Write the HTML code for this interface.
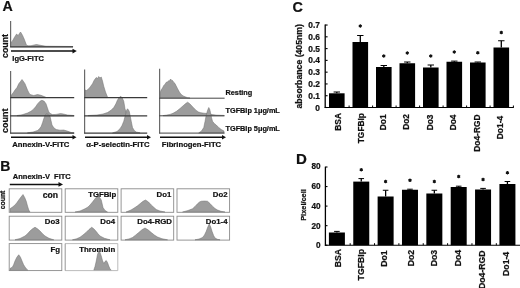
<!DOCTYPE html>
<html><head><meta charset="utf-8"><title>Figure</title>
<style>
html,body{margin:0;padding:0;background:#fff;}
body{width:520px;height:288px;overflow:hidden;}
svg{display:block;will-change:transform;} text{stroke:#111;stroke-width:0.22px;} svg{font-family:"Liberation Sans",sans-serif;fill:#111;}
</style></head><body>
<svg width="520" height="288" viewBox="0 0 520 288">
<rect x="0" y="0" width="520" height="288" fill="#fff"/>
<text x="2.4" y="10.5" font-size="14.2" font-weight="bold">A</text>
<path d="M11.30,46.80 L11.30,41.90 L12.50,41.00 L13.50,39.00 L14.80,36.70 L15.60,35.50 L16.50,34.10 L17.40,34.80 L18.20,35.50 L19.40,33.50 L20.50,32.00 L21.50,33.50 L22.60,35.50 L23.50,37.50 L24.30,39.30 L25.30,42.00 L26.40,44.90 L28.00,45.80 L31.00,45.70 L34.00,45.00 L36.50,44.50 L39.00,45.00 L42.00,45.60 L46.00,46.20 L73.00,46.50 L73.00,46.80 Z" fill="#9c9c9c" stroke="#6e6e6e" stroke-width="0.5" stroke-linejoin="round"/>
<line x1="10.6" y1="21" x2="10.6" y2="47.3" stroke="#6a6a6a" stroke-width="1.2"/>
<line x1="10.2" y1="46.8" x2="73" y2="46.8" stroke="#3a3a3a" stroke-width="1.2"/>
<line x1="11" y1="51.1" x2="73.5" y2="51.1" stroke="#111" stroke-width="1.5"/>
<path d="M72.5,48.8 L76.8,51.1 L72.5,53.4 Z" fill="#111"/>
<text x="12.3" y="60.9" font-size="7.5" font-weight="bold">IgG-FITC</text>
<text transform="translate(8,58) rotate(-90)" font-size="8.8" font-weight="bold">count</text>
<path d="M11.00,97.60 L11.00,95.50 L13.00,93.00 L15.00,90.00 L17.00,87.50 L18.75,83.75 L20.50,81.50 L22.00,79.50 L23.50,81.50 L25.00,83.75 L26.30,87.00 L27.50,90.00 L29.00,93.00 L30.00,94.50 L33.75,95.50 L37.50,94.50 L41.00,95.30 L46.00,97.30 L46.00,97.60 Z" fill="#9c9c9c" stroke="#6e6e6e" stroke-width="0.5" stroke-linejoin="round"/>
<path d="M17.00,115.80 L17.00,115.50 L22.00,114.80 L27.50,113.00 L31.00,111.20 L33.75,109.00 L36.00,106.20 L37.50,103.90 L40.00,101.20 L41.90,100.30 L44.20,101.20 L46.00,103.75 L47.30,107.50 L48.50,111.25 L49.80,113.30 L52.50,114.60 L56.00,114.40 L60.50,113.60 L63.50,114.00 L67.50,115.00 L74.00,115.50 L74.00,115.80 Z" fill="#9c9c9c" stroke="#6e6e6e" stroke-width="0.5" stroke-linejoin="round"/>
<path d="M27.50,133.10 L27.50,132.80 L33.00,132.00 L37.50,130.50 L39.50,128.80 L41.25,126.25 L42.60,122.50 L43.75,118.75 L45.00,115.50 L46.25,113.75 L48.00,114.20 L50.00,116.25 L51.00,120.50 L52.00,125.00 L54.00,128.00 L56.25,129.50 L60.00,130.20 L63.75,130.00 L68.00,131.30 L71.25,132.50 L74.00,132.80 L74.00,133.10 Z" fill="#9c9c9c" stroke="#6e6e6e" stroke-width="0.5" stroke-linejoin="round"/>
<path d="M85.00,97.60 L85.00,90.00 L86.50,90.50 L88.75,88.75 L90.50,86.50 L92.50,83.75 L94.20,80.20 L96.25,77.50 L97.50,78.50 L98.70,76.50 L100.00,78.00 L101.25,77.00 L102.50,81.00 L103.75,86.25 L105.50,92.00 L107.50,97.00 L107.50,97.60 Z" fill="#9c9c9c" stroke="#6e6e6e" stroke-width="0.5" stroke-linejoin="round"/>
<path d="M88.00,115.80 L88.00,115.50 L97.00,115.00 L103.00,114.00 L107.50,112.50 L111.00,110.30 L113.75,107.50 L115.80,104.00 L117.50,100.00 L119.20,97.50 L120.75,96.25 L122.30,98.00 L123.75,101.25 L125.00,108.75 L126.50,113.00 L128.75,115.50 L128.75,115.80 Z" fill="#9c9c9c" stroke="#6e6e6e" stroke-width="0.5" stroke-linejoin="round"/>
<path d="M112.50,133.10 L112.50,132.90 L117.00,131.50 L120.00,128.75 L122.00,125.50 L123.75,121.25 L125.50,114.50 L126.50,110.50 L127.50,108.75 L128.50,110.00 L129.30,111.50 L130.00,115.00 L131.30,121.50 L132.50,127.50 L134.30,130.50 L136.25,132.00 L140.00,132.80 L140.00,133.10 Z" fill="#9c9c9c" stroke="#6e6e6e" stroke-width="0.5" stroke-linejoin="round"/>
<path d="M159.80,98.10 L159.80,93.50 L161.25,89.75 L162.50,88.00 L163.75,85.50 L165.00,84.20 L166.25,82.25 L167.50,82.00 L168.75,80.60 L169.60,81.00 L170.50,79.00 L171.50,80.20 L172.50,80.50 L173.70,82.30 L175.00,83.50 L176.20,86.00 L177.50,88.50 L178.80,91.00 L180.00,93.00 L181.80,95.00 L183.75,96.20 L187.50,97.70 L190.00,98.00 L190.00,98.10 Z" fill="#9c9c9c" stroke="#6e6e6e" stroke-width="0.5" stroke-linejoin="round"/>
<path d="M163.00,115.80 L163.00,115.60 L166.50,115.10 L170.00,114.40 L173.00,113.30 L176.50,111.30 L180.00,108.50 L184.00,105.00 L186.00,103.30 L187.70,102.20 L190.00,104.00 L193.00,107.20 L196.20,110.40 L198.50,112.00 L200.80,112.70 L204.00,113.20 L208.00,113.60 L212.00,114.60 L216.00,115.10 L224.00,115.40 L224.00,115.80 Z" fill="#9c9c9c" stroke="#6e6e6e" stroke-width="0.5" stroke-linejoin="round"/>
<path d="M198.75,133.10 L198.75,132.90 L201.50,131.00 L203.75,127.50 L205.00,121.50 L206.25,115.00 L207.50,110.50 L208.75,107.50 L209.70,109.30 L210.50,112.50 L211.50,117.50 L212.50,121.25 L214.30,123.50 L216.25,125.00 L218.70,127.50 L221.25,129.50 L224.00,131.00 L224.00,133.10 Z" fill="#9c9c9c" stroke="#6e6e6e" stroke-width="0.5" stroke-linejoin="round"/>
<line x1="10.6" y1="71.0" x2="10.6" y2="133.6" stroke="#6a6a6a" stroke-width="1.2"/>
<line x1="10.2" y1="97.6" x2="74.2" y2="97.6" stroke="#3a3a3a" stroke-width="1.20"/>
<line x1="10.2" y1="115.8" x2="74.2" y2="115.8" stroke="#3a3a3a" stroke-width="1.20"/>
<line x1="10.2" y1="133.1" x2="74.2" y2="133.1" stroke="#3a3a3a" stroke-width="1.20"/>
<line x1="84.6" y1="69.5" x2="84.6" y2="133.6" stroke="#6a6a6a" stroke-width="1.2"/>
<line x1="84.2" y1="97.6" x2="147.2" y2="97.6" stroke="#3a3a3a" stroke-width="1.20"/>
<line x1="84.2" y1="115.8" x2="147.2" y2="115.8" stroke="#3a3a3a" stroke-width="1.20"/>
<line x1="84.2" y1="133.1" x2="147.2" y2="133.1" stroke="#3a3a3a" stroke-width="1.20"/>
<line x1="159.6" y1="68.8" x2="159.6" y2="133.6" stroke="#6a6a6a" stroke-width="1.2"/>
<line x1="159.2" y1="98.2" x2="224.6" y2="98.2" stroke="#444" stroke-width="1.00"/>
<line x1="159.2" y1="115.8" x2="224.6" y2="115.8" stroke="#444" stroke-width="1.00"/>
<line x1="159.2" y1="133.1" x2="224.6" y2="133.1" stroke="#444" stroke-width="1.00"/>
<line x1="11.0" y1="137.2" x2="73.5" y2="137.2" stroke="#111" stroke-width="1.5"/>
<path d="M72.5,134.9 L76.5,137.2 L72.5,139.5 Z" fill="#111"/>
<line x1="85.0" y1="137.2" x2="148.0" y2="137.2" stroke="#111" stroke-width="1.5"/>
<path d="M147.0,134.9 L151.0,137.2 L147.0,139.5 Z" fill="#111"/>
<line x1="160.0" y1="137.2" x2="223.0" y2="137.2" stroke="#111" stroke-width="1.5"/>
<path d="M222.0,134.9 L226.0,137.2 L222.0,139.5 Z" fill="#111"/>
<text transform="translate(8,133) rotate(-90)" font-size="9" font-weight="bold">count</text>
<text x="12.2" y="147.2" font-size="7.7" font-weight="bold">Annexin-V-FITC</text>
<text x="86.3" y="147.2" font-size="7.7" font-weight="bold">&#945;-P-selectin-FITC</text>
<text x="161.8" y="147.2" font-size="7.7" font-weight="bold">Fibrinogen-FITC</text>
<text x="225.5" y="95" font-size="7.3" font-weight="bold">Resting</text>
<text x="225.5" y="113" font-size="7.3" font-weight="bold">TGFBIp 1&#956;g/mL</text>
<text x="225.5" y="131" font-size="7.3" font-weight="bold">TGFBIp 5&#956;g/mL</text>
<text x="0.2" y="170.9" font-size="14" font-weight="bold">B</text>
<text x="12.8" y="179.3" font-size="7.5" font-weight="bold" xml:space="preserve">Annexin-V  FITC</text>
<line x1="9.8" y1="184.4" x2="60" y2="184.4" stroke="#111" stroke-width="1.5"/>
<path d="M58.5,182.1 L63,184.4 L58.5,186.7 Z" fill="#111"/>
<text transform="translate(5.2,209.2) rotate(-90)" font-size="6.8" font-weight="bold">count</text>
<path d="M10.00,212.10 L10.00,208.75 L12.50,207.00 L15.00,205.00 L17.00,202.50 L18.75,200.00 L21.00,197.00 L23.00,194.50 L24.70,197.50 L26.25,201.25 L27.50,206.00 L28.75,210.00 L30.00,212.00 L30.00,212.10 Z" fill="#9c9c9c" stroke="#6e6e6e" stroke-width="0.5" stroke-linejoin="round"/>
<path d="M75.00,212.10 L75.00,212.00 L80.00,211.00 L85.00,208.75 L88.00,207.00 L90.00,205.00 L92.50,202.00 L95.00,198.75 L96.50,197.00 L98.00,196.25 L99.70,197.50 L101.25,200.00 L102.20,204.00 L103.00,207.50 L105.00,210.50 L107.50,212.00 L107.50,212.10 Z" fill="#9c9c9c" stroke="#6e6e6e" stroke-width="0.5" stroke-linejoin="round"/>
<path d="M126.00,212.10 L126.00,212.00 L131.00,210.00 L135.00,207.50 L137.50,205.80 L140.00,203.75 L143.00,201.30 L145.50,200.00 L148.50,202.00 L151.25,205.00 L154.00,207.50 L156.25,209.50 L160.00,211.00 L165.00,212.00 L165.00,212.10 Z" fill="#9c9c9c" stroke="#6e6e6e" stroke-width="0.5" stroke-linejoin="round"/>
<path d="M182.50,212.10 L182.50,212.00 L188.00,210.50 L192.50,208.75 L195.00,206.50 L197.50,203.75 L199.50,202.00 L201.25,201.25 L204.50,201.00 L207.50,201.25 L210.00,203.50 L212.50,206.25 L215.00,208.50 L217.50,210.00 L221.00,211.30 L225.00,212.00 L225.00,212.10 Z" fill="#9c9c9c" stroke="#6e6e6e" stroke-width="0.5" stroke-linejoin="round"/>
<path d="M15.00,239.90 L15.00,239.75 L20.00,238.50 L25.00,236.00 L27.50,233.80 L30.00,231.00 L32.50,228.80 L35.00,227.25 L37.50,228.80 L40.00,231.00 L42.50,233.70 L45.00,236.00 L49.00,238.30 L53.75,239.80 L53.75,239.90 Z" fill="#9c9c9c" stroke="#6e6e6e" stroke-width="0.5" stroke-linejoin="round"/>
<path d="M72.50,239.90 L72.50,239.80 L76.50,238.80 L80.00,237.25 L83.00,235.00 L86.25,232.25 L89.00,229.50 L91.75,227.25 L94.00,229.00 L96.25,231.50 L98.00,233.80 L100.00,236.00 L104.50,238.30 L110.00,239.80 L110.00,239.90 Z" fill="#9c9c9c" stroke="#6e6e6e" stroke-width="0.5" stroke-linejoin="round"/>
<path d="M125.00,239.90 L125.00,239.80 L129.00,238.90 L132.50,237.50 L135.50,235.20 L138.75,232.50 L142.00,229.70 L145.00,228.00 L148.00,229.80 L151.25,232.50 L154.30,235.00 L157.50,237.00 L162.00,238.70 L167.50,239.80 L167.50,239.90 Z" fill="#9c9c9c" stroke="#6e6e6e" stroke-width="0.5" stroke-linejoin="round"/>
<path d="M195.00,239.90 L195.00,239.80 L199.00,239.00 L202.50,237.50 L204.50,235.00 L206.25,231.25 L207.80,227.00 L209.25,223.75 L210.70,227.00 L212.00,231.25 L213.50,235.30 L215.00,238.00 L217.50,239.30 L220.00,239.80 L220.00,239.90 Z" fill="#9c9c9c" stroke="#6e6e6e" stroke-width="0.5" stroke-linejoin="round"/>
<path d="M10.00,270.40 L10.00,268.50 L12.50,267.00 L13.70,264.50 L15.00,261.00 L16.80,257.30 L18.75,254.75 L20.50,257.30 L22.00,261.00 L23.50,264.50 L25.00,267.00 L26.50,269.00 L28.00,270.30 L28.00,270.40 Z" fill="#9c9c9c" stroke="#6e6e6e" stroke-width="0.5" stroke-linejoin="round"/>
<path d="M93.75,270.40 L93.75,270.30 L95.00,266.50 L96.25,261.00 L97.40,255.00 L98.75,251.00 L100.00,252.50 L101.25,256.00 L102.50,260.50 L103.75,263.50 L105.00,261.50 L106.25,260.50 L107.50,262.50 L108.75,266.00 L110.00,268.80 L111.25,270.30 L111.25,270.40 Z" fill="#9c9c9c" stroke="#6e6e6e" stroke-width="0.5" stroke-linejoin="round"/>
<rect x="9.2" y="188.8" width="52.6" height="23.5" fill="none" stroke="#8a8a8a" stroke-width="0.9"/>
<text x="58.0" y="197.5" font-size="8.6" font-weight="bold" text-anchor="end">con</text>
<rect x="65.2" y="188.8" width="52.6" height="23.5" fill="none" stroke="#8a8a8a" stroke-width="0.9"/>
<text x="116.3" y="196.9" font-size="7.8" font-weight="bold" text-anchor="end">TGFBIp</text>
<rect x="121.1" y="188.8" width="52.6" height="23.5" fill="none" stroke="#8a8a8a" stroke-width="0.9"/>
<text x="171.3" y="196.9" font-size="7.8" font-weight="bold" text-anchor="end">Do1</text>
<rect x="177.0" y="188.8" width="52.6" height="23.5" fill="none" stroke="#8a8a8a" stroke-width="0.9"/>
<text x="227.5" y="196.9" font-size="7.8" font-weight="bold" text-anchor="end">Do2</text>
<rect x="9.2" y="216.2" width="52.6" height="23.9" fill="none" stroke="#8a8a8a" stroke-width="0.9"/>
<text x="59.5" y="224.3" font-size="7.8" font-weight="bold" text-anchor="end">Do3</text>
<rect x="65.2" y="216.2" width="52.6" height="23.9" fill="none" stroke="#8a8a8a" stroke-width="0.9"/>
<text x="115.0" y="224.3" font-size="7.8" font-weight="bold" text-anchor="end">Do4</text>
<rect x="121.1" y="216.2" width="52.6" height="23.9" fill="none" stroke="#8a8a8a" stroke-width="0.9"/>
<text x="172.0" y="224.3" font-size="7.8" font-weight="bold" text-anchor="end">Do4-RGD</text>
<rect x="177.0" y="216.2" width="52.6" height="23.9" fill="none" stroke="#8a8a8a" stroke-width="0.9"/>
<text x="227.5" y="224.3" font-size="7.8" font-weight="bold" text-anchor="end">Do1-4</text>
<rect x="9.2" y="243.6" width="52.6" height="27.0" fill="none" stroke="#8a8a8a" stroke-width="0.9"/>
<text x="60.0" y="252.4" font-size="7.8" font-weight="bold" text-anchor="end">Fg</text>
<path d="M65.2,243.6 L117.8,243.6 L117.8,270.6 L65.2,270.6" fill="none" stroke="#b4b4b4" stroke-width="0.9"/>
<line x1="65.2" y1="243.6" x2="65.2" y2="270.6" stroke="#8a8a8a" stroke-width="0.9"/>
<text x="115.2" y="252.4" font-size="7.8" font-weight="bold" text-anchor="end">Thrombin</text>
<text x="292.6" y="12.1" font-size="14.4" font-weight="bold">C</text>
<rect x="329.00" y="93.30" width="15.60" height="14.20" fill="#000"/>
<line x1="336.80" y1="93.30" x2="336.80" y2="92.00" stroke="#000" stroke-width="1.3"/>
<line x1="333.60" y1="92.00" x2="340.00" y2="92.00" stroke="#000" stroke-width="1"/>
<text transform="translate(340.50,113.00) rotate(-90)" font-size="8.4" font-weight="bold" text-anchor="end">BSA</text>
<rect x="352.50" y="42.00" width="15.60" height="65.50" fill="#000"/>
<line x1="360.30" y1="42.00" x2="360.30" y2="35.50" stroke="#000" stroke-width="1.3"/>
<line x1="357.10" y1="35.50" x2="363.50" y2="35.50" stroke="#000" stroke-width="1"/>
<path d="M360.30,24.20 L360.30,27.80 M358.74,25.10 L361.86,26.90 M358.74,26.90 L361.86,25.10 " stroke="#111" stroke-width="1.05" fill="none"/><circle cx="360.30" cy="26.00" r="1.35" fill="#111"/>
<text transform="translate(364.20,113.00) rotate(-90)" font-size="8.4" font-weight="bold" text-anchor="end">TGFBIp</text>
<rect x="376.00" y="67.00" width="15.60" height="40.50" fill="#000"/>
<line x1="383.80" y1="67.00" x2="383.80" y2="65.50" stroke="#000" stroke-width="1.3"/>
<line x1="380.60" y1="65.50" x2="387.00" y2="65.50" stroke="#000" stroke-width="1"/>
<path d="M383.80,54.20 L383.80,57.80 M382.24,55.10 L385.36,56.90 M382.24,56.90 L385.36,55.10 " stroke="#111" stroke-width="1.05" fill="none"/><circle cx="383.80" cy="56.00" r="1.35" fill="#111"/>
<text transform="translate(386.20,114.40) rotate(-90)" font-size="8.4" font-weight="bold" text-anchor="end">Do1</text>
<rect x="399.50" y="63.25" width="15.60" height="44.25" fill="#000"/>
<line x1="407.30" y1="63.25" x2="407.30" y2="62.00" stroke="#000" stroke-width="1.3"/>
<line x1="404.10" y1="62.00" x2="410.50" y2="62.00" stroke="#000" stroke-width="1"/>
<path d="M407.30,51.20 L407.30,54.80 M405.74,52.10 L408.86,53.90 M405.74,53.90 L408.86,52.10 " stroke="#111" stroke-width="1.05" fill="none"/><circle cx="407.30" cy="53.00" r="1.35" fill="#111"/>
<text transform="translate(408.60,114.00) rotate(-90)" font-size="8.4" font-weight="bold" text-anchor="end">Do2</text>
<rect x="423.00" y="67.50" width="15.60" height="40.00" fill="#000"/>
<line x1="430.80" y1="67.50" x2="430.80" y2="65.00" stroke="#000" stroke-width="1.3"/>
<line x1="427.60" y1="65.00" x2="434.00" y2="65.00" stroke="#000" stroke-width="1"/>
<path d="M430.80,54.20 L430.80,57.80 M429.24,55.10 L432.36,56.90 M429.24,56.90 L432.36,55.10 " stroke="#111" stroke-width="1.05" fill="none"/><circle cx="430.80" cy="56.00" r="1.35" fill="#111"/>
<text transform="translate(433.10,114.50) rotate(-90)" font-size="8.4" font-weight="bold" text-anchor="end">Do3</text>
<rect x="446.50" y="61.75" width="15.60" height="45.75" fill="#000"/>
<line x1="454.30" y1="61.75" x2="454.30" y2="61.10" stroke="#000" stroke-width="1.3"/>
<line x1="451.10" y1="61.10" x2="457.50" y2="61.10" stroke="#000" stroke-width="1"/>
<path d="M454.30,50.20 L454.30,53.80 M452.74,51.10 L455.86,52.90 M452.74,52.90 L455.86,51.10 " stroke="#111" stroke-width="1.05" fill="none"/><circle cx="454.30" cy="52.00" r="1.35" fill="#111"/>
<text transform="translate(456.20,114.50) rotate(-90)" font-size="8.4" font-weight="bold" text-anchor="end">Do4</text>
<rect x="470.00" y="62.50" width="15.60" height="45.00" fill="#000"/>
<line x1="477.80" y1="62.50" x2="477.80" y2="62.00" stroke="#000" stroke-width="1.3"/>
<line x1="474.60" y1="62.00" x2="481.00" y2="62.00" stroke="#000" stroke-width="1"/>
<path d="M477.80,50.95 L477.80,54.55 M476.24,51.85 L479.36,53.65 M476.24,53.65 L479.36,51.85 " stroke="#111" stroke-width="1.05" fill="none"/><circle cx="477.80" cy="52.75" r="1.35" fill="#111"/>
<text transform="translate(480.10,114.50) rotate(-90)" font-size="8.4" font-weight="bold" text-anchor="end">Do4-RGD</text>
<rect x="493.50" y="47.50" width="15.60" height="60.00" fill="#000"/>
<line x1="501.30" y1="47.50" x2="501.30" y2="40.75" stroke="#000" stroke-width="1.3"/>
<line x1="498.10" y1="40.75" x2="504.50" y2="40.75" stroke="#000" stroke-width="1"/>
<path d="M501.30,30.70 L501.30,34.30 M499.74,31.60 L502.86,33.40 M499.74,33.40 L502.86,31.60 " stroke="#111" stroke-width="1.05" fill="none"/><circle cx="501.30" cy="32.50" r="1.35" fill="#111"/>
<text transform="translate(503.10,115.90) rotate(-90)" font-size="8.4" font-weight="bold" text-anchor="end">Do1-4</text>
<line x1="325.2" y1="24.5" x2="325.2" y2="108.0" stroke="#000" stroke-width="1.3"/>
<line x1="324.7" y1="107.5" x2="513.8" y2="107.5" stroke="#000" stroke-width="1.1"/>
<line x1="325.2" y1="107.50" x2="327.6" y2="107.50" stroke="#000" stroke-width="1.1"/>
<text x="319.9" y="110.50" font-size="8.4" font-weight="bold" text-anchor="end">0</text>
<line x1="325.2" y1="95.72" x2="327.6" y2="95.72" stroke="#000" stroke-width="1.1"/>
<text x="319.9" y="98.72" font-size="8.4" font-weight="bold" text-anchor="end">0.1</text>
<line x1="325.2" y1="83.94" x2="327.6" y2="83.94" stroke="#000" stroke-width="1.1"/>
<text x="319.9" y="86.94" font-size="8.4" font-weight="bold" text-anchor="end">0.2</text>
<line x1="325.2" y1="72.16" x2="327.6" y2="72.16" stroke="#000" stroke-width="1.1"/>
<text x="319.9" y="75.16" font-size="8.4" font-weight="bold" text-anchor="end">0.3</text>
<line x1="325.2" y1="60.38" x2="327.6" y2="60.38" stroke="#000" stroke-width="1.1"/>
<text x="319.9" y="63.38" font-size="8.4" font-weight="bold" text-anchor="end">0.4</text>
<line x1="325.2" y1="48.60" x2="327.6" y2="48.60" stroke="#000" stroke-width="1.1"/>
<text x="319.9" y="51.60" font-size="8.4" font-weight="bold" text-anchor="end">0.5</text>
<line x1="325.2" y1="36.82" x2="327.6" y2="36.82" stroke="#000" stroke-width="1.1"/>
<text x="319.9" y="39.82" font-size="8.4" font-weight="bold" text-anchor="end">0.6</text>
<line x1="325.2" y1="25.04" x2="327.6" y2="25.04" stroke="#000" stroke-width="1.1"/>
<text x="319.9" y="28.04" font-size="8.4" font-weight="bold" text-anchor="end">0.7</text>
<line x1="349.10" y1="105.5" x2="349.10" y2="107.5" stroke="#000" stroke-width="1"/>
<line x1="372.60" y1="105.5" x2="372.60" y2="107.5" stroke="#000" stroke-width="1"/>
<line x1="396.10" y1="105.5" x2="396.10" y2="107.5" stroke="#000" stroke-width="1"/>
<line x1="419.60" y1="105.5" x2="419.60" y2="107.5" stroke="#000" stroke-width="1"/>
<line x1="443.10" y1="105.5" x2="443.10" y2="107.5" stroke="#000" stroke-width="1"/>
<line x1="466.60" y1="105.5" x2="466.60" y2="107.5" stroke="#000" stroke-width="1"/>
<line x1="490.10" y1="105.5" x2="490.10" y2="107.5" stroke="#000" stroke-width="1"/>
<line x1="513.40" y1="105.5" x2="513.40" y2="107.5" stroke="#000" stroke-width="1"/>
<text transform="translate(301.8,66.3) rotate(-90)" font-size="8.7" font-weight="bold" text-anchor="middle">absorbance (405nm)</text>
<text x="296" y="163.5" font-size="15" font-weight="bold">D</text>
<rect x="328.90" y="232.50" width="16.00" height="12.70" fill="#000"/>
<line x1="336.90" y1="232.50" x2="336.90" y2="231.40" stroke="#000" stroke-width="1.3"/>
<line x1="334.10" y1="231.40" x2="339.70" y2="231.40" stroke="#000" stroke-width="1"/>
<text transform="translate(340.60,249.00) rotate(-90)" font-size="8.7" font-weight="bold" text-anchor="end">BSA</text>
<rect x="353.26" y="181.60" width="16.00" height="63.60" fill="#000"/>
<line x1="361.26" y1="181.60" x2="361.26" y2="178.60" stroke="#000" stroke-width="1.3"/>
<line x1="358.46" y1="178.60" x2="364.06" y2="178.60" stroke="#000" stroke-width="1"/>
<path d="M361.26,167.95 L361.26,171.55 M359.70,168.85 L362.82,170.65 M359.70,170.65 L362.82,168.85 " stroke="#111" stroke-width="1.05" fill="none"/><circle cx="361.26" cy="169.75" r="1.35" fill="#111"/>
<text transform="translate(364.00,249.00) rotate(-90)" font-size="8.7" font-weight="bold" text-anchor="end">TGFBIp</text>
<rect x="377.62" y="196.50" width="16.00" height="48.70" fill="#000"/>
<line x1="385.62" y1="196.50" x2="385.62" y2="190.25" stroke="#000" stroke-width="1.3"/>
<line x1="382.82" y1="190.25" x2="388.42" y2="190.25" stroke="#000" stroke-width="1"/>
<path d="M385.62,179.70 L385.62,183.30 M384.06,180.60 L387.18,182.40 M384.06,182.40 L387.18,180.60 " stroke="#111" stroke-width="1.05" fill="none"/><circle cx="385.62" cy="181.50" r="1.35" fill="#111"/>
<text transform="translate(386.90,250.40) rotate(-90)" font-size="8.7" font-weight="bold" text-anchor="end">Do1</text>
<rect x="401.98" y="189.75" width="16.00" height="55.45" fill="#000"/>
<line x1="409.98" y1="189.75" x2="409.98" y2="189.20" stroke="#000" stroke-width="1.3"/>
<line x1="407.18" y1="189.20" x2="412.78" y2="189.20" stroke="#000" stroke-width="1"/>
<path d="M409.98,178.45 L409.98,182.05 M408.42,179.35 L411.54,181.15 M408.42,181.15 L411.54,179.35 " stroke="#111" stroke-width="1.05" fill="none"/><circle cx="409.98" cy="180.25" r="1.35" fill="#111"/>
<text transform="translate(414.10,249.80) rotate(-90)" font-size="8.7" font-weight="bold" text-anchor="end">Do2</text>
<rect x="426.34" y="193.50" width="16.00" height="51.70" fill="#000"/>
<line x1="434.34" y1="193.50" x2="434.34" y2="190.25" stroke="#000" stroke-width="1.3"/>
<line x1="431.54" y1="190.25" x2="437.14" y2="190.25" stroke="#000" stroke-width="1"/>
<path d="M434.34,179.70 L434.34,183.30 M432.78,180.60 L435.90,182.40 M432.78,182.40 L435.90,180.60 " stroke="#111" stroke-width="1.05" fill="none"/><circle cx="434.34" cy="181.50" r="1.35" fill="#111"/>
<text transform="translate(436.85,249.90) rotate(-90)" font-size="8.7" font-weight="bold" text-anchor="end">Do3</text>
<rect x="450.70" y="187.00" width="16.00" height="58.20" fill="#000"/>
<line x1="458.70" y1="187.00" x2="458.70" y2="186.20" stroke="#000" stroke-width="1.3"/>
<line x1="455.90" y1="186.20" x2="461.50" y2="186.20" stroke="#000" stroke-width="1"/>
<path d="M458.70,174.70 L458.70,178.30 M457.14,175.60 L460.26,177.40 M457.14,177.40 L460.26,175.60 " stroke="#111" stroke-width="1.05" fill="none"/><circle cx="458.70" cy="176.50" r="1.35" fill="#111"/>
<text transform="translate(460.60,249.90) rotate(-90)" font-size="8.7" font-weight="bold" text-anchor="end">Do4</text>
<rect x="475.06" y="189.50" width="16.00" height="55.70" fill="#000"/>
<line x1="483.06" y1="189.50" x2="483.06" y2="188.40" stroke="#000" stroke-width="1.3"/>
<line x1="480.26" y1="188.40" x2="485.86" y2="188.40" stroke="#000" stroke-width="1"/>
<path d="M483.06,177.70 L483.06,181.30 M481.50,178.60 L484.62,180.40 M481.50,180.40 L484.62,178.60 " stroke="#111" stroke-width="1.05" fill="none"/><circle cx="483.06" cy="179.50" r="1.35" fill="#111"/>
<text transform="translate(485.10,250.40) rotate(-90)" font-size="8.7" font-weight="bold" text-anchor="end">Do4-RGD</text>
<rect x="499.42" y="184.00" width="16.00" height="61.20" fill="#000"/>
<line x1="507.42" y1="184.00" x2="507.42" y2="181.50" stroke="#000" stroke-width="1.3"/>
<line x1="504.62" y1="181.50" x2="510.22" y2="181.50" stroke="#000" stroke-width="1"/>
<path d="M507.42,170.95 L507.42,174.55 M505.86,171.85 L508.98,173.65 M505.86,173.65 L508.98,171.85 " stroke="#111" stroke-width="1.05" fill="none"/><circle cx="507.42" cy="172.75" r="1.35" fill="#111"/>
<text transform="translate(508.60,251.80) rotate(-90)" font-size="8.7" font-weight="bold" text-anchor="end">Do1-4</text>
<line x1="325.4" y1="166.7" x2="325.4" y2="245.8" stroke="#000" stroke-width="1.3"/>
<line x1="324.9" y1="245.2" x2="520" y2="245.2" stroke="#000" stroke-width="1.1"/>
<line x1="325.4" y1="245.20" x2="327.5" y2="245.20" stroke="#000" stroke-width="1.1"/>
<text x="320.6" y="248.15" font-size="8.2" font-weight="bold" text-anchor="end">0</text>
<line x1="325.4" y1="225.65" x2="327.5" y2="225.65" stroke="#000" stroke-width="1.1"/>
<text x="320.6" y="228.60" font-size="8.2" font-weight="bold" text-anchor="end">20</text>
<line x1="325.4" y1="206.10" x2="327.5" y2="206.10" stroke="#000" stroke-width="1.1"/>
<text x="320.6" y="209.05" font-size="8.2" font-weight="bold" text-anchor="end">40</text>
<line x1="325.4" y1="186.55" x2="327.5" y2="186.55" stroke="#000" stroke-width="1.1"/>
<text x="320.6" y="189.20" font-size="8.2" font-weight="bold" text-anchor="end">60</text>
<line x1="325.4" y1="167.00" x2="327.5" y2="167.00" stroke="#000" stroke-width="1.1"/>
<text x="320.6" y="169.05" font-size="8.2" font-weight="bold" text-anchor="end">80</text>
<line x1="350.16" y1="243.2" x2="350.16" y2="245.2" stroke="#000" stroke-width="1"/>
<line x1="374.52" y1="243.2" x2="374.52" y2="245.2" stroke="#000" stroke-width="1"/>
<line x1="398.88" y1="243.2" x2="398.88" y2="245.2" stroke="#000" stroke-width="1"/>
<line x1="423.24" y1="243.2" x2="423.24" y2="245.2" stroke="#000" stroke-width="1"/>
<line x1="447.60" y1="243.2" x2="447.60" y2="245.2" stroke="#000" stroke-width="1"/>
<line x1="471.96" y1="243.2" x2="471.96" y2="245.2" stroke="#000" stroke-width="1"/>
<line x1="496.32" y1="243.2" x2="496.32" y2="245.2" stroke="#000" stroke-width="1"/>
<text transform="translate(305.6,205) rotate(-90)" font-size="7.4" font-weight="bold" text-anchor="middle">Pixel/cell</text>
</svg>
</body></html>
